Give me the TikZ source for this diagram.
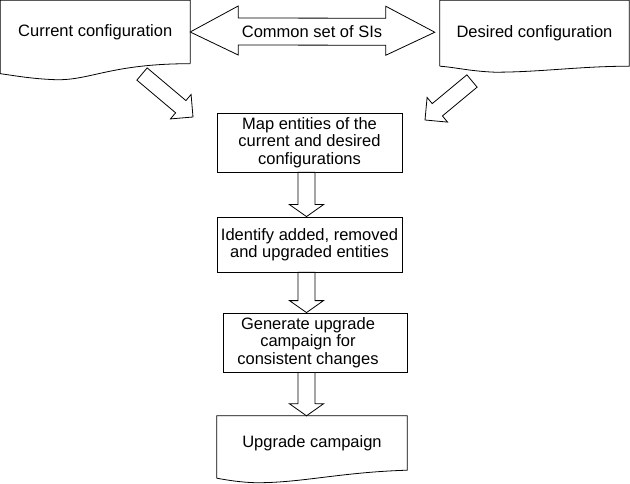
\documentclass[tikz,border=0pt]{standalone}
\usepackage{fontspec}
\setmainfont{Liberation Sans}
\usetikzlibrary{calc}
\tikzset{
  lbl/.style={font=\fontsize{16.5}{17.5}\selectfont, align=center, inner sep=0pt},
  boxed/.style={lbl, draw, line width=0.8pt, rectangle},
  docbox/.style={lbl, rectangle},
  shapeline/.style={draw, line width=0.8pt, fill=white, line join=miter},
}
\newcommand\hollowarrow[5]{%
  \coordinate (ha-h) at ($(#2)!#5!(#1)$);
  \draw[shapeline] ($(#1)!#3!90:(#2)$) -- ($(ha-h)!#3!-90:(#1)$) -- ($(ha-h)!#4!-90:(#1)$) -- (#2) -- ($(ha-h)!#4!90:(#1)$) -- ($(ha-h)!#3!90:(#1)$) -- ($(#1)!#3!-90:(#2)$) -- cycle;
}
\begin{document}
\begin{tikzpicture}[x=1pt, y=-1pt]
\useasboundingbox (0,0) rectangle (630,484);
% documents
\node[docbox, minimum width=189.5pt, minimum height=63pt] (cur) at (95.25,32) {Current configuration};
\node[docbox, minimum width=189pt, minimum height=65.5pt] (des) at (534.5,33.25) {Desired configuration};
\node[docbox, minimum width=190pt, minimum height=54pt] (camp) at (312,443) {Upgrade campaign};
\draw[line width=0.8pt] (cur.south east) -- (cur.north east) -- (cur.north west) -- ($(cur.south west)+(0,10)$)
  .. controls ($(cur.south west)+(15,12)$) and ($(cur.south west)+(30,15)$) .. ($(cur.south west)+(55,16)$)
  .. controls ($(cur.south west)+(90,17)$) and ($(cur.south west)+(110,0)$) .. (cur.south east);
\draw[line width=0.8pt] (des.south west) -- (des.north west) -- (des.north east) -- (des.south east)
  .. controls ($(des.south east)+(-49,0)$) and ($(des.south east)+(-89,6)$) .. ($(des.south west)+(55,6)$)
  .. controls ($(des.south west)+(30,5)$) and ($(des.south west)+(15,1)$) .. (des.south west);
\draw[line width=0.8pt] ($(camp.south west)+(0,8)$) -- (camp.north west) -- (camp.north east) -- (camp.south east)
  .. controls ($(camp.south east)+(-67,2)$) and ($(camp.south east)+(-107,13)$) .. ($(camp.south west)+(38,12.5)$)
  .. controls ($(camp.south west)+(23,12)$) and ($(camp.south west)+(11,10)$) .. ($(camp.south west)+(0,8)$);
% process boxes
\node[boxed, minimum width=185pt, minimum height=59pt] (map) at (309.5,142.5) {Map entities of the\\current and desired\\configurations};
\node[boxed, minimum width=185pt, minimum height=55pt] (ident) at (309.5,244.5) {Identify added, removed\\and upgraded entities};
\node[boxed, minimum width=184pt, minimum height=59pt,
      label={[lbl, xshift=-7pt]center:{Generate upgrade\\campaign for\\consistent changes}}] (gen) at (315,342.5) {};
% double arrow between configurations
\coordinate (dl) at (cur.east);
\coordinate (dr) at ($(des.west)+(-5,-1)$);
\draw[shapeline] (dl) -- ++(48,-26) -- ++(0,12) -- ($(dr)+(-49,-14)$) -- ++(0,-12) -- (dr) -- ++(-49,23) -- ++(0,-10) -- ($(dl)+(48,13)$) -- ++(0,10) -- cycle;
\node[lbl] (common) at (312,32) {Common set of SIs};
% diagonal arrows
\coordinate (t1) at (142,74);
\coordinate (p1) at (193,117);
\coordinate (t2) at (472,81);
\coordinate (p2) at (425,120);
\hollowarrow{t1}{p1}{8pt}{16pt}{16pt}
\hollowarrow{t2}{p2}{8pt}{16pt}{16pt}
% vertical arrows
\coordinate (a1) at ($(map.south)+(-3,0)$);
\coordinate (b1) at ($(ident.north)+(-3,0)$);
\coordinate (a2) at ($(ident.south)+(-3,0)$);
\coordinate (b2) at ($(gen.north)+(-8.5,0)$);
\coordinate (a3) at ($(gen.south)+(-8.5,0)$);
\coordinate (b3) at ($(camp.north)+(-5.5,0)$);
\hollowarrow{a1}{b1}{8.5pt}{17pt}{12pt}
\hollowarrow{a2}{b2}{8.5pt}{17pt}{12pt}
\hollowarrow{a3}{b3}{8.5pt}{17pt}{12pt}
\end{tikzpicture}
\end{document}
